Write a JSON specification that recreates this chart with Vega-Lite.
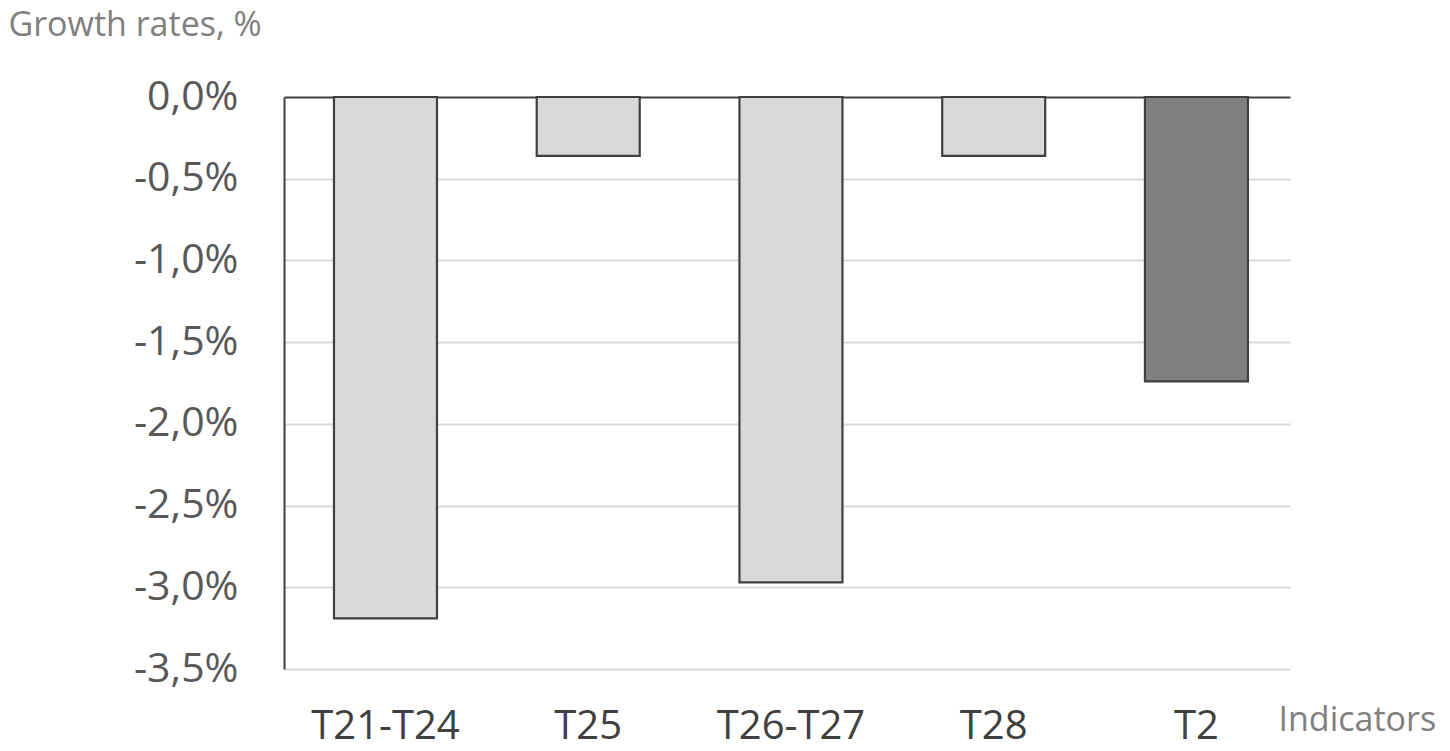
{
  "$schema": "https://vega.github.io/schema/vega-lite/v6.json",
  "autosize": {"type": "none"},
  "padding": {"left": 284, "top": 97, "right": 160, "bottom": 82},
  "width": 1006,
  "height": 572,
  "background": "white",
  "config": {"view": {"stroke": null}, "font": "Open Sans"},
  "data": {
    "values": [
      {"indicator": "T21-T24", "rate": -3.19, "group": "component"},
      {"indicator": "T25", "rate": -0.36, "group": "component"},
      {"indicator": "T26-T27", "rate": -2.97, "group": "component"},
      {"indicator": "T28", "rate": -0.36, "group": "component"},
      {"indicator": "T2", "rate": -1.74, "group": "total"}
    ]
  },
  "mark": {"type": "bar", "stroke": "#404040", "strokeWidth": 2.2},
  "encoding": {
    "x": {
      "field": "indicator",
      "type": "nominal",
      "sort": null,
      "scale": {"paddingInner": 0.492, "paddingOuter": 0.227, "align": 0.543},
      "axis": {
        "domain": false,
        "ticks": false,
        "tickSize": 0,
        "labelAngle": 0,
        "labelFontSize": 40,
        "labelColor": "#404040",
        "labelBaseline": "alphabetic",
        "labelPadding": 69,
        "title": "Indicators",
        "titleFontSize": 34,
        "titleFontWeight": "normal",
        "titleColor": "#808080",
        "titleAlign": "left",
        "titleBaseline": "alphabetic",
        "titleX": 994,
        "titleY": 61
      }
    },
    "y": {
      "field": "rate",
      "type": "quantitative",
      "scale": {"domain": [-3.5, 0], "nice": false, "zero": false},
      "axis": {
        "values": [0, -0.5, -1, -1.5, -2, -2.5, -3, -3.5],
        "labelExpr": "replace(replace(format(datum.value, '.1f'), '.', ','), '\u2212', '-') + '%'",
        "domain": true,
        "domainColor": "#404040",
        "domainWidth": 2,
        "grid": true,
        "gridColor": {"condition": {"test": "datum.value === 0", "value": "#404040"}, "value": "#d9d9d9"},
        "gridWidth": 2,
        "ticks": false,
        "tickSize": 0,
        "labelFontSize": 41,
        "labelColor": "#595959",
        "labelPadding": 46,
        "title": "Growth rates, %",
        "titleAngle": 0,
        "titleAlign": "left",
        "titleBaseline": "alphabetic",
        "titleX": -276,
        "titleY": -62,
        "titleFontSize": 34,
        "titleFontWeight": "normal",
        "titleColor": "#808080"
      }
    },
    "color": {
      "field": "group",
      "type": "nominal",
      "scale": {"domain": ["component", "total"], "range": ["#d9d9d9", "#808080"]},
      "legend": null
    }
  }
}
